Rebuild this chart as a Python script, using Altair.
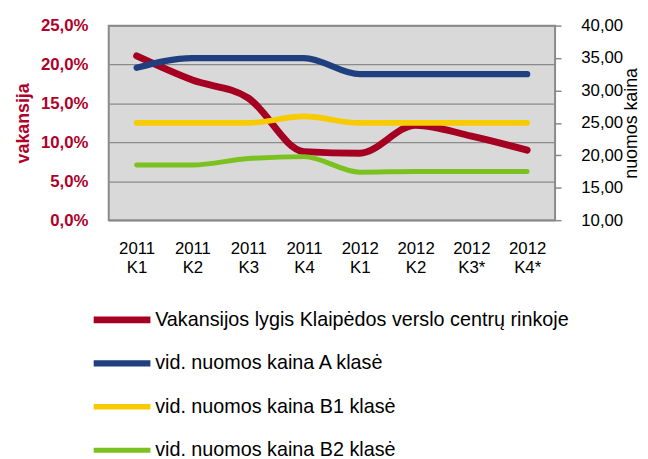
import altair as alt
import pandas as pd

categories = ["2011 K1", "2011 K2", "2011 K3", "2011 K4", "2012 K1", "2012 K2", "2012 K3*", "2012 K4*"]
vacancy = [21.1, 18.0, 15.7, 8.8, 8.6, 12.2, 10.8, 9.0]
price_a = [33.5, 35.0, 35.0, 35.0, 32.5, 32.5, 32.5, 32.5]
price_b1 = [25.0, 25.0, 25.0, 26.0, 25.0, 25.0, 25.0, 25.0]
price_b2 = [18.5, 18.5, 19.5, 19.8, 17.4, 17.5, 17.5, 17.5]

series_names = [
    "Vakansijos lygis Klaipėdos verslo centrų rinkoje",
    "vid. nuomos kaina A klasė",
    "vid. nuomos kaina B1 klasė",
    "vid. nuomos kaina B2 klasė",
]
series_colors = ["#a50021", "#1f3f7f", "#f7cb00", "#7bc11f"]
series_widths = [7, 5, 5, 5]

rows = []
for name, vals in zip(series_names, [vacancy, price_a, price_b1, price_b2]):
    for c, v in zip(categories, vals):
        rows.append({"cat": c, "series": name, "value": v})
df = pd.DataFrame(rows)

FONT = "Liberation Sans"

x_enc = alt.X(
    "cat:N",
    sort=categories,
    title=None,
    axis=alt.Axis(
        labelExpr="split(datum.label, ' ')",
        labelAngle=0,
        labelFontSize=17,
        labelFont=FONT,
        labelColor="#000000",
        labelLineHeight=19,
        labelPadding=21,
        labelBaseline="top",
        ticks=False,
        domain=False,
        grid=False,
    ),
)

color_enc = alt.Color(
    "series:N",
    scale=alt.Scale(domain=series_names, range=series_colors),
    legend=alt.Legend(
        title=None,
        orient="none",
        legendX=-19,
        legendY=288,
        direction="vertical",
        symbolType="stroke",
        symbolSize=3300,
        symbolStrokeWidth=5,
        labelFontSize=20,
        labelFont=FONT,
        labelColor="#000000",
        labelOffset=1,
        clipHeight=20,
        rowPadding=24,
        padding=0,
        labelLimit=600,
    ),
)

sw_enc = alt.StrokeWidth(
    "series:N",
    scale=alt.Scale(domain=series_names, range=series_widths),
    legend=None,
)

base = alt.Chart(df)

red = base.transform_filter(alt.datum.series == series_names[0]).mark_line(
    interpolate="monotone", strokeCap="round"
).encode(
    x=x_enc,
    y=alt.Y(
        "value:Q",
        scale=alt.Scale(domain=[0, 25], nice=False, zero=False),
        title="vakansija",
        axis=alt.Axis(
            orient="left",
            values=[0, 5, 10, 15, 20, 25],
            labelExpr="replace(format(datum.value, '.1f'), '.', ',') + '%'",
            labelFontSize=17,
            labelFont=FONT,
            labelFontWeight="bold",
            labelColor="#b0002a",
            labelPadding=21,
            ticks=False,
            domain=False,
            grid=True,
            gridColor="#8a8a8a",
            gridWidth=1.5,
            titleFontSize=18,
            titleFont=FONT,
            titleFontWeight="bold",
            titleColor="#b0002a",
            titlePadding=8,
        ),
    ),
    color=color_enc,
    strokeWidth=sw_enc,
)

others = base.transform_filter(alt.datum.series != series_names[0]).mark_line(
    interpolate="monotone", strokeCap="round"
).encode(
    x=x_enc,
    y=alt.Y(
        "value:Q",
        scale=alt.Scale(domain=[10, 40], nice=False, zero=False),
        title="nuomos kaina",
        axis=alt.Axis(
            orient="right",
            values=[10, 15, 20, 25, 30, 35, 40],
            labelExpr="replace(format(datum.value, '.2f'), '.', ',')",
            labelFontSize=17,
            labelFont=FONT,
            labelColor="#000000",
            labelPadding=20,
            ticks=True,
            tickSize=6,
            tickColor="#8a8a8a",
            tickWidth=1.5,
            domain=False,
            grid=False,
            titleFontSize=18,
            titleFont=FONT,
            titleFontWeight="normal",
            titleColor="#000000",
            titleAngle=270,
            titleBaseline="top",
            titlePadding=0,
        ),
    ),
    color=color_enc,
    strokeWidth=sw_enc,
)

chart = alt.layer(red, others).resolve_scale(y="independent").properties(
    width=452,
    height=197,
    autosize=alt.AutoSizeParams(type="none"),
    padding={"left": 102, "top": 15, "right": 86, "bottom": 236},
    background="white",
).configure_view(
    fill="#d9d9d9",
    stroke="#8a8a8a",
    strokeWidth=2,
)

chart.save("out.html", embed_options={"renderer": "svg", "actions": False})
